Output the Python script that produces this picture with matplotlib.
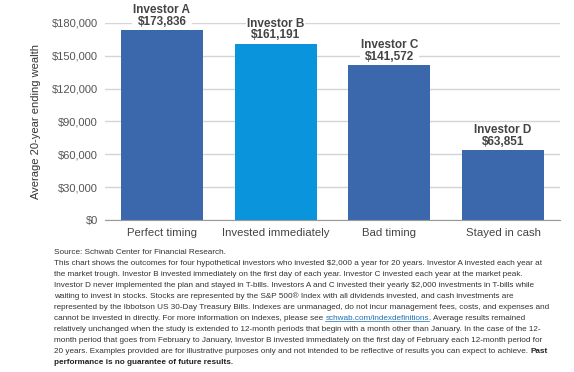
import matplotlib
matplotlib.use("Agg")
import matplotlib.pyplot as plt
from matplotlib.ticker import FuncFormatter

categories = ["Perfect timing", "Invested immediately", "Bad timing", "Stayed in cash"]
investors = ["Investor A", "Investor B", "Investor C", "Investor D"]
values = [173836, 161191, 141572, 63851]
yticks = [0, 30000, 60000, 90000, 120000, 150000, 180000]
colors = ["#3b68ad", "#0a94dc", "#3b68ad", "#3b68ad"]

plt.rcParams['font.family'] = ['Liberation Sans', 'DejaVu Sans']

fig = plt.figure(figsize=(5.74, 3.72), dpi=100)
ax = fig.add_axes([105/574, 1-220/372, (560-105)/574, (220-23)/372])

x = list(range(len(categories)))
bars = ax.bar(x, values, width=0.72, color=colors, zorder=2)
ax.set_xlim(-0.5, 3.5)
ax.set_ylim(0, 180000)
ax.set_yticks(yticks)
ax.yaxis.set_major_formatter(FuncFormatter(lambda v, p: "\\$" + f"{int(v):,}"))
ax.set_xticks(x)
ax.set_xticklabels(categories, fontsize=8.2, color="#444444")
ax.tick_params(axis='y', length=0, pad=5, labelsize=8, labelcolor="#555555")
ax.tick_params(axis='x', length=0, pad=6)
ax.grid(axis='y', color="#d4d4d4", linewidth=1, zorder=0)
ax.set_axisbelow(True)
for s in ["top", "right", "left"]:
    ax.spines[s].set_visible(False)
ax.spines["bottom"].set_color("#999999")
ax.spines["bottom"].set_zorder(3)

ax.set_ylabel("Average 20-year ending wealth", fontsize=8, color="#333333", labelpad=8)

for xi, v, name in zip(x, values, investors):
    ax.annotate(name + "\n\\$" + f"{v:,}", xy=(xi, v), xytext=(0, 1.6), textcoords="offset points",
                ha="center", va="bottom", fontsize=8.5, fontweight="bold", color="#444444",
                linespacing=0.95, annotation_clip=False,
                bbox=dict(boxstyle="square,pad=0.1", fc="white", ec="none"), zorder=1.5)

# footnote
lines = [
    [("Source: Schwab Center for Financial Research.", "n", "#333333")],
    [("This chart shows the outcomes for four hypothetical investors who invested \\$2,000 a year for 20 years. Investor A invested each year at", "n", "#333333")],
    [("the market trough. Investor B invested immediately on the first day of each year. Investor C invested each year at the market peak.", "n", "#333333")],
    [("Investor D never implemented the plan and stayed in T-bills. Investors A and C invested their yearly \\$2,000 investments in T-bills while", "n", "#333333")],
    [("waiting to invest in stocks. Stocks are represented by the S&P 500® Index with all dividends invested, and cash investments are", "n", "#333333")],
    [("represented by the Ibbotson US 30-Day Treasury Bills. Indexes are unmanaged, do not incur management fees, costs, and expenses and", "n", "#333333")],
    [("cannot be invested in directly. For more information on indexes, please see ", "n", "#333333"),
     ("schwab.com/indexdefinitions", "n", "#1a6fb5"),
     (". Average results remained", "n", "#333333")],
    [("relatively unchanged when the study is extended to 12-month periods that begin with a month other than January. In the case of the 12-", "n", "#333333")],
    [("month period that goes from February to January, Investor B invested immediately on the first day of February each 12-month period for", "n", "#333333")],
    [("20 years. Examples provided are for illustrative purposes only and not intended to be reflective of results you can expect to achieve. ", "n", "#333333"),
     ("Past", "b", "#222222")],
    [("performance is no guarantee of future results.", "b", "#222222")],
]

renderer = fig.canvas.get_renderer()
probe = fig.text(0, 0, lines[1][0][0], fontsize=6)
w = probe.get_window_extent(renderer).width
probe.remove()
fs = 6 * 491 / w

x0 = 54
y0 = 252
dy = 11.1
for i, segs in enumerate(lines):
    xp = x0
    yp = y0 + i * dy
    for txt, wt, col in segs:
        t = fig.text(xp/574, 1 - yp/372, txt, fontsize=fs, color=col,
                     fontweight="bold" if wt == "b" else "normal", va="center", ha="left")
        bb = t.get_window_extent(renderer)
        if col == "#1a6fb5":
            fig.add_artist(plt.Line2D([bb.x0/574, bb.x1/574], [(bb.y0+1)/372, (bb.y0+1)/372],
                                      color=col, linewidth=0.5, transform=fig.transFigure))
        xp += bb.width

fig.savefig("out.png", dpi=100)
